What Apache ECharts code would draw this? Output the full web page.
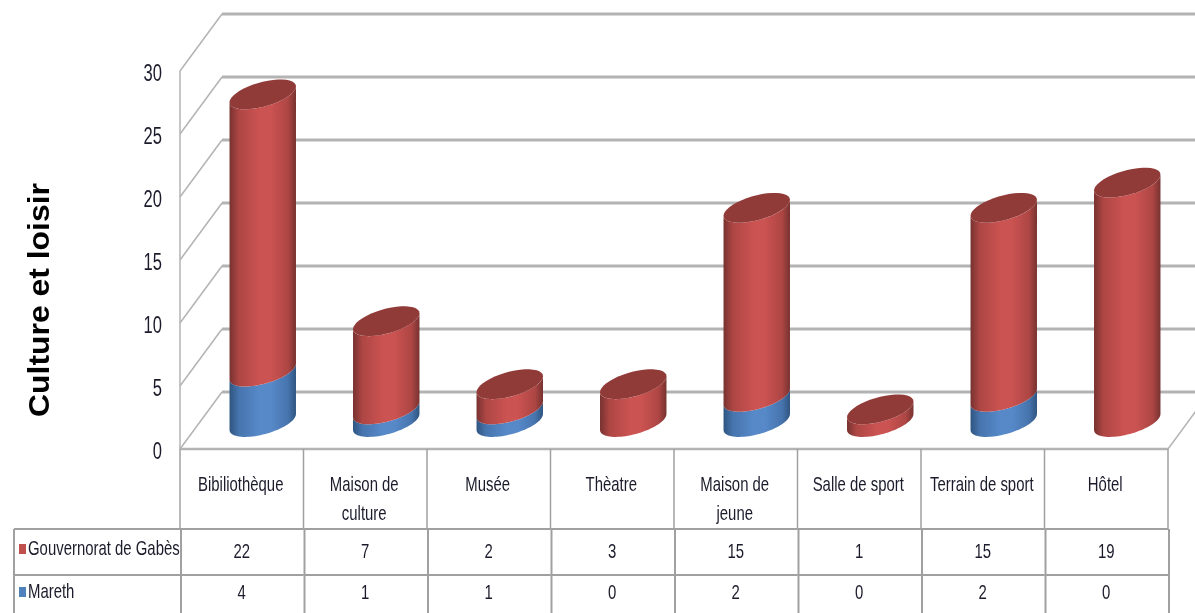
<!DOCTYPE html>
<html>
<head>
<meta charset="utf-8">
<style>html,body{margin:0;padding:0;background:#fff}#c{width:1195px;height:613px;filter:blur(0.5px)}</style>
<script src="https://cdn.jsdelivr.net/npm/echarts@6/dist/echarts.min.js"></script>
</head>
<body>
<div id="c"></div>
<script>
const categories = ['Bibiliothèque','Maison de\nculture','Musée','Thèatre','Maison de\njeune','Salle de sport','Terrain de sport','Hôtel'];
const gabes = [22,7,2,3,15,1,15,19];
const mareth = [4,1,1,0,2,0,2,0];
const gabesName = 'Gouvernorat de Gabès';
const marethName = 'Mareth';
const yTicks = [0,5,10,15,20,25,30];
const yTitle = 'Culture et loisir';

const FONT = '"Liberation Sans",sans-serif';
const TEXT = '#1b1b2b';
const DEPTH_X = 42, DEPTH_Y = 57, LINE = '#b3b3b3', TLINE = '#a0a0a0';
const ROW1 = 529, ROW2 = 575, TABLE_LEFT = 14, BOTTOM = 613;
const RED_KEY = '#c0504d', BLUE_KEY = '#4f81bd';

const chart = echarts.init(document.getElementById('c'), null, {renderer:'canvas'});
const grad = (e, m) => new echarts.graphic.LinearGradient(0,0,1,0,[
  {offset:0,color:e},{offset:.14,color:m[0]},{offset:.45,color:m[1]},{offset:.62,color:m[1]},{offset:.88,color:m[0]},{offset:1,color:e}]);
const RED = grad('#773230',['#ad4644','#cb5351']);
const BLUE = grad('#2f5580',['#4674ad','#5789c9']);
const CAP = '#913b39';

function arc(cx, cy, a, from, to) {
  const pts = [];
  for (let k = 0; k <= 40; k++) {
    const t = from + (to - from) * k / 40;
    pts.push([cx + a * Math.cos(t), cy - 0.24 * a * Math.cos(t) - 0.38 * a * Math.sin(t)]);
  }
  return pts;
}
function cylinder(fill, withCap) {
  return function (params, api) {
    const i = api.value(0), lo = api.value(1), hi = api.value(2);
    if (hi <= lo) return {type:'group', children:[]};
    const p0 = api.coord([i, lo]), p1 = api.coord([i, hi]);
    const a = api.size([1,0])[0] * 0.269;
    const cx = p0[0] + DEPTH_X / 2, y0 = p0[1] - 27, y1 = p1[1] - 27;
    const lower = arc(cx, y0, a, Math.PI, 2 * Math.PI);
    const upper = arc(cx, y1, a, 2 * Math.PI, Math.PI);
    const children = [{type:'polygon', shape:{points:lower.concat(upper)}, style:{fill}}];
    if (withCap) children.push({type:'polygon', shape:{points:arc(cx, y1, a, 0, 2 * Math.PI)}, style:{fill:CAP}});
    return {type:'group', children};
  };
}
function line(x1,y1,x2,y2,stroke,w){return {type:'line',shape:{x1,y1,x2,y2},style:{stroke,lineWidth:w}};}
function label(text,x,y,align,size,sx){
  return {type:'text',x,y,scaleX:sx||0.71,style:{text:String(text),x:0,y:0,align:align||'center',verticalAlign:'middle',fill:TEXT,font:(size||21)+'px '+FONT}};
}

const option = {
  animation:false,
  backgroundColor:'#fff',
  textStyle:{fontFamily:FONT},
  grid:{left:180,top:71,width:988,height:378,containLabel:false},
  xAxis:{type:'category',data:categories,axisLine:{show:false},axisTick:{show:false},splitLine:{show:false},axisLabel:{show:false}},
  yAxis:{type:'value',min:0,max:30,interval:5,axisLine:{show:false},axisTick:{show:false},splitLine:{show:false},axisLabel:{show:false}},
  graphic:[{type:'text',x:40.5,y:300,silent:true,rotation:Math.PI/2,scaleX:1.1,
    style:{text:yTitle,align:'center',verticalAlign:'middle',fill:'#000',font:'bold 29px '+FONT}}],
  series:[
    {type:'custom',name:'walls',silent:true,z:1,coordinateSystem:'cartesian2d',
      data:yTicks.map(v=>[0,v]),encode:{x:0,y:1},
      renderItem(params,api){
        const v=api.value(1), p=api.coord([0,v]), y=p[1];
        const xl=p[0]-api.size([1,0])[0]/2, xr=xl+988;
        const ch=[line(xl,y,xl+DEPTH_X,y-DEPTH_Y,LINE,1.5),
                  line(xl+DEPTH_X,y-DEPTH_Y,xr+DEPTH_X,y-DEPTH_Y,LINE,3),
                  line(xl,y,xl,y+(v===0?0:63),LINE,1.5),
                  label(v,xl-18,y+4,'right',23,0.72)];
        if(v===0){ch.push(line(xr,y,xr+DEPTH_X,y-DEPTH_Y,LINE,1.5));ch.push(line(xl,y,xr,y,LINE,2.5));}
        return {type:'group',children:ch};
      }},
    {type:'custom',name:'table',silent:true,z:1,coordinateSystem:'cartesian2d',
      data:categories.map((c,i)=>[i,gabes[i],mareth[i]]),encode:{x:0,y:1},
      renderItem(params,api){
        const i=api.value(0), x=api.coord([i,0])[0], band=api.size([1,0])[0], y0=api.coord([i,0])[1];
        const xa=x-band/2, xb=x+band/2, ch=[];
        ch.push(line(xa,y0,xa,ROW1,TLINE,1.5), line(xa+1,ROW1,xa+1,BOTTOM,TLINE,2));
        ch.push(line(xa,ROW1,xb,ROW1,TLINE,2), line(xa,ROW2,xb,ROW2,TLINE,2));
        if(i===categories.length-1){ch.push(line(xb,y0,xb,ROW1,TLINE,1.5), line(xb+1,ROW1,xb+1,BOTTOM,TLINE,2));}
        if(i===0){
          ch.push(line(TABLE_LEFT,ROW1,xa,ROW1,TLINE,2), line(TABLE_LEFT,ROW2,xa,ROW2,TLINE,2), line(TABLE_LEFT,ROW1,TABLE_LEFT,BOTTOM,TLINE,2));
          ch.push({type:'rect',shape:{x:19,y:544,width:7,height:10},style:{fill:RED_KEY}});
          ch.push({type:'rect',shape:{x:19,y:587,width:7,height:10},style:{fill:BLUE_KEY}});
          ch.push(label(gabesName,28,549,'left'), label(marethName,28,592,'left'));
        }
        categories[i].split('\n').forEach((t,k)=>ch.push(label(t,x-1,485+k*29)));
        ch.push(label(api.value(1),x,552), label(api.value(2),x,593));
        return {type:'group',children:ch};
      }},
    {type:'custom',name:marethName,silent:true,z:3,coordinateSystem:'cartesian2d',
      itemStyle:{color:BLUE_KEY},
      data:mareth.map((v,i)=>[i,0,v]),encode:{x:0,y:2},renderItem:cylinder(BLUE,false)},
    {type:'custom',name:gabesName,silent:true,z:4,coordinateSystem:'cartesian2d',
      itemStyle:{color:RED_KEY},
      data:gabes.map((v,i)=>[i,mareth[i],mareth[i]+v]),encode:{x:0,y:2},renderItem:cylinder(RED,true)}
  ]
};
chart.setOption(option);
</script>
</body>
</html>
